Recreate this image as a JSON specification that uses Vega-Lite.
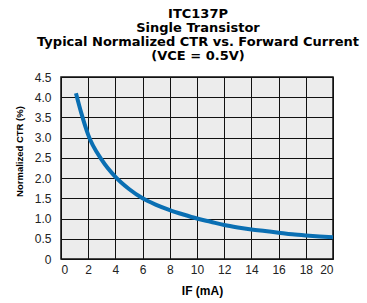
{
  "$schema": "https://vega.github.io/schema/vega-lite/v6.json",
  "width": 272,
  "height": 182,
  "autosize": {"type": "none"},
  "padding": {"left": 61, "top": 77, "right": 34, "bottom": 44},
  "background": "white",
  "config": {
    "font": "Liberation Sans",
    "view": {"fill": "#ececec", "stroke": "#111", "strokeWidth": 1.5}
  },
  "title": {
    "text": ["ITC137P", "Single Transistor", "Typical Normalized CTR vs. Forward Current", "(VCE = 0.5V)"],
    "font": "DejaVu Sans",
    "fontSize": 13,
    "fontWeight": "bold",
    "lineHeight": 14,
    "color": "#000",
    "anchor": "middle",
    "dx": 1,
    "offset": 8
  },
  "data": {
    "values": [
      {"x": 1.1, "y": 4.1},
      {"x": 1.5, "y": 3.6},
      {"x": 2, "y": 3.07},
      {"x": 3, "y": 2.45},
      {"x": 4, "y": 2.03},
      {"x": 5, "y": 1.73},
      {"x": 6, "y": 1.5},
      {"x": 7, "y": 1.34},
      {"x": 8, "y": 1.21},
      {"x": 9, "y": 1.1},
      {"x": 10, "y": 1.0},
      {"x": 11, "y": 0.92},
      {"x": 12, "y": 0.84},
      {"x": 13, "y": 0.78},
      {"x": 14, "y": 0.73},
      {"x": 15, "y": 0.69},
      {"x": 16, "y": 0.65},
      {"x": 17, "y": 0.61},
      {"x": 18, "y": 0.58},
      {"x": 19, "y": 0.555},
      {"x": 20, "y": 0.535}
    ]
  },
  "mark": {"type": "line", "color": "#0a6fb3", "strokeWidth": 4, "interpolate": "monotone", "strokeCap": "butt"},
  "encoding": {
    "x": {
      "field": "x",
      "type": "quantitative",
      "scale": {"domain": [0, 20], "nice": false},
      "axis": {
        "title": "IF (mA)",
        "values": [0, 2, 4, 6, 8, 10, 12, 14, 16, 18, 20],
        "format": "d",
        "grid": true,
        "gridColor": "#111",
        "gridOpacity": 1,
        "gridWidth": 1,
        "ticks": false,
        "domain": false,
        "labelPadding": 5,
        "labelFontSize": 12,
        "labelColor": "#222",
        "labelFont": "Liberation Sans",
        "titleFont": "Liberation Sans",
        "titleFontSize": 12,
        "titleFontWeight": "bold",
        "titleColor": "#000",
        "titlePadding": 10,
        "titleX": 141
      }
    },
    "y": {
      "field": "y",
      "type": "quantitative",
      "scale": {"domain": [0, 4.5], "nice": false},
      "axis": {
        "title": "Normalized CTR (%)",
        "values": [0, 0.5, 1, 1.5, 2, 2.5, 3, 3.5, 4, 4.5],
        "labelExpr": "datum.value == 0 ? '0' : format(datum.value, '.1f')",
        "grid": true,
        "gridColor": "#111",
        "gridOpacity": 1,
        "gridWidth": 1,
        "ticks": false,
        "domain": false,
        "labelPadding": 10,
        "labelFontSize": 12,
        "labelColor": "#222",
        "labelFont": "Liberation Sans",
        "titleFont": "Liberation Sans",
        "titleFontSize": 9.5,
        "titleFontWeight": "bold",
        "titleColor": "#000",
        "titlePadding": 10,
        "titleY": 74
      }
    }
  }
}
